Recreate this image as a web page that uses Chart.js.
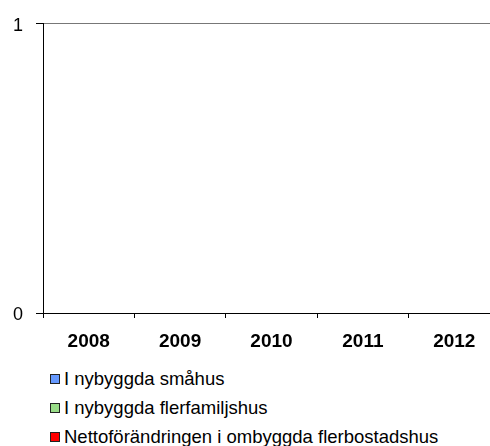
<!DOCTYPE html>
<html>
<head>
<meta charset="utf-8">
<script src="https://cdn.jsdelivr.net/npm/chart.js@4.4.1/dist/chart.umd.min.js"></script>
<style>
  html, body { margin: 0; padding: 0; background: #fff; overflow: hidden; }
  body { width: 490px; height: 446px; position: relative; font-family: "Liberation Sans", Arial, sans-serif; }
  #wrap { position: absolute; left: 0; top: 0; width: 500px; height: 353px; }
  #legend { position: absolute; left: 50px; top: 364px; }
  .item { height: 29px; display: flex; align-items: center; font-size: 18.5px; color: #000; }
  .box { width: 8px; height: 8px; border: 1px solid #222; margin-right: 4px; }
</style>
</head>
<body>
<div id="wrap"><canvas id="chart"></canvas></div>
<div id="legend"></div>
<script>
// Kategorier (år) och serier - diagrammet saknar värden
const years = ['2008', '2009', '2010', '2011', '2012'];
const smahus = [0, 0, 0, 0, 0];
const flerfamiljshus = [0, 0, 0, 0, 0];
const ombyggda = [0, 0, 0, 0, 0];
const seriesNames = ['I nybyggda småhus', 'I nybyggda flerfamiljshus', 'Nettoförändringen i ombyggda flerbostadshus'];
const seriesColors = ['#6699ff', '#99dd88', '#ff0000'];
const yTicks = [0, 1];

const fontFamily = '"Liberation Sans", Arial, sans-serif';

const datasets = [smahus, flerfamiljshus, ombyggda].map((values, i) => ({
    label: seriesNames[i],
    data: values,
    backgroundColor: seriesColors[i],
    borderWidth: 0
}));

new Chart(document.getElementById('chart').getContext('2d'), {
    type: 'bar',
    data: { labels: years, datasets: datasets },
    options: {
        responsive: true,
        maintainAspectRatio: false,
        animation: false,
        layout: { padding: { top: 20, right: 0, bottom: 0, left: 0 } },
        plugins: {
            legend: { display: false },
            tooltip: { enabled: false }
        },
        scales: {
            x: {
                stacked: true,
                border: { color: '#000', width: 1 },
                grid: { offset: true, drawOnChartArea: false, drawTicks: true, tickLength: 5, color: '#000' },
                ticks: { color: '#000', padding: 12, font: { family: fontFamily, size: 19, weight: 'bold' } },
                afterFit: (scale) => { scale.height = 40; }
            },
            y: {
                stacked: true,
                min: 0,
                max: 1,
                border: { color: '#000', width: 1 },
                grid: {
                    color: (ctx) => ctx.tick && ctx.tick.value === 0 ? '#000' : '#777',
                    tickColor: '#000',
                    tickLength: 7
                },
                afterBuildTicks: (scale) => { scale.ticks = yTicks.map(v => ({ value: v })); },
                ticks: { color: '#000', padding: 13, labelOffset: 2, font: { family: fontFamily, size: 18 } },
                afterFit: (scale) => { scale.width = 43; }
            }
        }
    }
});

// Legend som egna rader under diagrammet
const legend = document.getElementById('legend');
seriesNames.forEach((name, i) => {
    const row = document.createElement('div');
    row.className = 'item';
    row.innerHTML = '<span class="box" style="background:' + seriesColors[i] + '"></span><span></span>';
    row.lastChild.textContent = name;
    legend.appendChild(row);
});
</script>
</body>
</html>
